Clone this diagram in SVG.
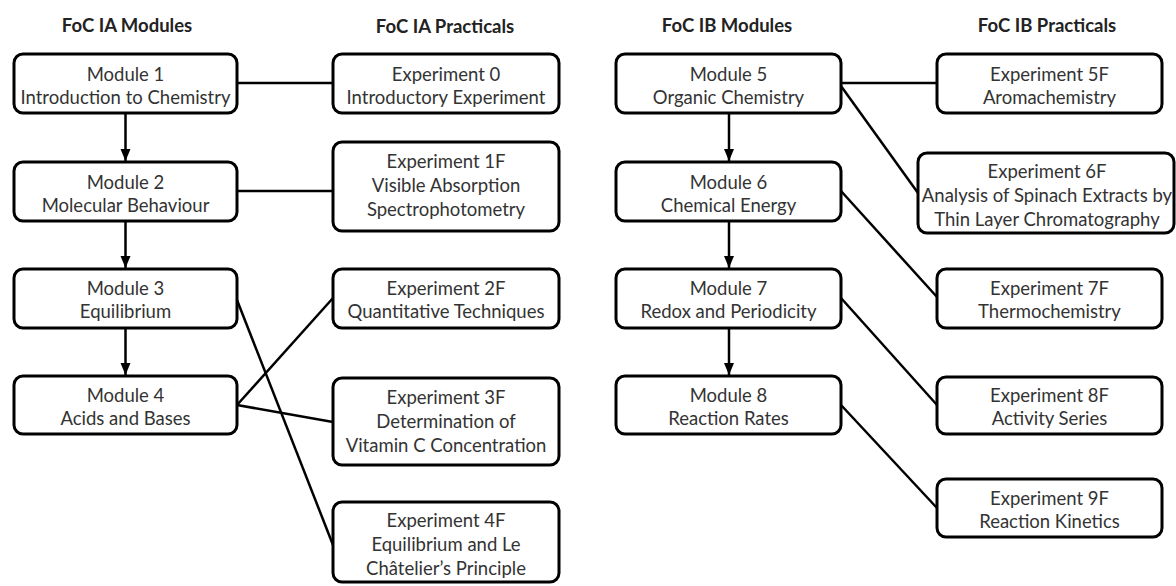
<svg xmlns="http://www.w3.org/2000/svg" width="1176" height="586" viewBox="0 0 1176 586">
<style>
.box{fill:#fff;stroke:#000;stroke-width:3}
.t{font-family:Lato,"Liberation Sans",sans-serif;font-size:18.5px;fill:#333;text-anchor:middle}
.h{font-family:Lato,"Liberation Sans",sans-serif;font-size:18.5px;font-weight:bold;fill:#222;text-anchor:middle}
.c{stroke:#000;stroke-width:2.5;fill:none}
</style>
<defs>
<marker id="ah" markerUnits="userSpaceOnUse" markerWidth="12" markerHeight="12" viewBox="0 0 12 12" refX="12" refY="6" orient="auto">
<path d="M0,1 L12,6 L0,11 z" fill="#000"/>
</marker>
</defs>
<rect width="1176" height="586" fill="#fff"/>
<g id="headers">
<text class="h" x="127" y="32">FoC IA Modules</text>
<text class="h" x="445" y="33">FoC IA Practicals</text>
<text class="h" x="727" y="32">FoC IB Modules</text>
<text class="h" x="1047" y="32">FoC IB Practicals</text>
</g>
<g id="connectors">
<line class="c" x1="237" y1="83" x2="333" y2="83"/>
<line class="c" x1="237" y1="191" x2="333" y2="191"/>
<line class="c" x1="237" y1="300" x2="333" y2="545"/>
<line class="c" x1="237" y1="405" x2="333" y2="298"/>
<line class="c" x1="237" y1="405" x2="333" y2="422"/>
<line class="c" x1="841" y1="83" x2="937" y2="83"/>
<line class="c" x1="841" y1="86" x2="918" y2="193"/>
<line class="c" x1="841" y1="191" x2="937" y2="297"/>
<line class="c" x1="841" y1="298" x2="937" y2="405"/>
<line class="c" x1="841" y1="405" x2="937" y2="508"/>
<line class="c" x1="125.5" y1="114" x2="125.5" y2="161" marker-end="url(#ah)"/>
<line class="c" x1="125.5" y1="222" x2="125.5" y2="268" marker-end="url(#ah)"/>
<line class="c" x1="125.5" y1="329" x2="125.5" y2="375" marker-end="url(#ah)"/>
<line class="c" x1="729" y1="114" x2="729" y2="161" marker-end="url(#ah)"/>
<line class="c" x1="729" y1="222" x2="729" y2="268" marker-end="url(#ah)"/>
<line class="c" x1="729" y1="329" x2="729" y2="375" marker-end="url(#ah)"/>
</g>
<g id="m1"><rect class="box" x="14" y="54" width="223" height="59" rx="9"/><text class="t" x="125.5" y="81">Module 1</text><text class="t" x="125.5" y="104">Introduction to Chemistry</text></g>
<g id="m2"><rect class="box" x="14" y="162" width="223" height="59" rx="9"/><text class="t" x="125.5" y="189">Module 2</text><text class="t" x="125.5" y="212">Molecular Behaviour</text></g>
<g id="m3"><rect class="box" x="14" y="269" width="223" height="59" rx="9"/><text class="t" x="125.5" y="295">Module 3</text><text class="t" x="125.5" y="318">Equilibrium</text></g>
<g id="m4"><rect class="box" x="14" y="376" width="223" height="58" rx="9"/><text class="t" x="125.5" y="402">Module 4</text><text class="t" x="125.5" y="425">Acids and Bases</text></g>
<g id="e0"><rect class="box" x="333" y="54" width="226" height="59" rx="9"/><text class="t" x="446" y="81">Experiment 0</text><text class="t" x="446" y="104">Introductory Experiment</text></g>
<g id="e1f"><rect class="box" x="333" y="142" width="226" height="89" rx="9"/><text class="t" x="446" y="168">Experiment 1F</text><text class="t" x="446" y="192">Visible Absorption</text><text class="t" x="446" y="216">Spectrophotometry</text></g>
<g id="e2f"><rect class="box" x="333" y="269" width="226" height="59" rx="9"/><text class="t" x="446" y="295">Experiment 2F</text><text class="t" x="446" y="318">Quantitative Techniques</text></g>
<g id="e3f"><rect class="box" x="333" y="378" width="226" height="87" rx="9"/><text class="t" x="446" y="404">Experiment 3F</text><text class="t" x="446" y="428">Determination of</text><text class="t" x="446" y="452">Vitamin C Concentration</text></g>
<g id="e4f"><rect class="box" x="333" y="502" width="226" height="80" rx="9"/><text class="t" x="446" y="527">Experiment 4F</text><text class="t" x="446" y="551">Equilibrium and Le</text><text class="t" x="446" y="575">Châtelier’s Principle</text></g>
<g id="m5"><rect class="box" x="616" y="54" width="225" height="59" rx="9"/><text class="t" x="728.5" y="81">Module 5</text><text class="t" x="728.5" y="104">Organic Chemistry</text></g>
<g id="m6"><rect class="box" x="616" y="162" width="225" height="59" rx="9"/><text class="t" x="728.5" y="189">Module 6</text><text class="t" x="728.5" y="212">Chemical Energy</text></g>
<g id="m7"><rect class="box" x="616" y="269" width="225" height="59" rx="9"/><text class="t" x="728.5" y="295">Module 7</text><text class="t" x="728.5" y="318">Redox and Periodicity</text></g>
<g id="m8"><rect class="box" x="616" y="376" width="225" height="58" rx="9"/><text class="t" x="728.5" y="402">Module 8</text><text class="t" x="728.5" y="425">Reaction Rates</text></g>
<g id="e5f"><rect class="box" x="937" y="54" width="225" height="59" rx="9"/><text class="t" x="1049.5" y="81">Experiment 5F</text><text class="t" x="1049.5" y="104">Aromachemistry</text></g>
<g id="e6f"><rect class="box" x="918" y="153" width="256" height="80" rx="9"/><text class="t" x="1047" y="178">Experiment 6F</text><text class="t" x="1047" y="202">Analysis of Spinach Extracts by</text><text class="t" x="1047" y="226">Thin Layer Chromatography</text></g>
<g id="e7f"><rect class="box" x="937" y="269" width="225" height="59" rx="9"/><text class="t" x="1049.5" y="295">Experiment 7F</text><text class="t" x="1049.5" y="318">Thermochemistry</text></g>
<g id="e8f"><rect class="box" x="937" y="377" width="225" height="57" rx="9"/><text class="t" x="1049.5" y="402">Experiment 8F</text><text class="t" x="1049.5" y="425">Activity Series</text></g>
<g id="e9f"><rect class="box" x="937" y="479" width="225" height="58" rx="9"/><text class="t" x="1049.5" y="505">Experiment 9F</text><text class="t" x="1049.5" y="528">Reaction Kinetics</text></g>
</svg>
